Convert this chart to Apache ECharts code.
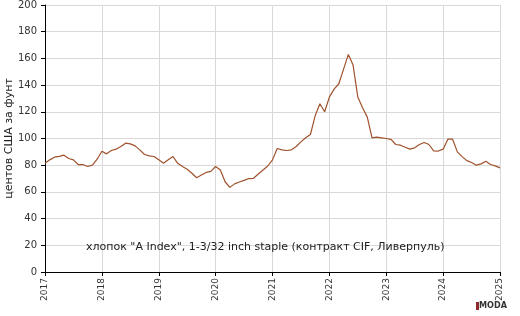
<!DOCTYPE html>
<html>
<head>
<meta charset="utf-8">
<script src="https://cdn.jsdelivr.net/npm/echarts@6/dist/echarts.min.js"></script>
<style>
html, body { margin: 0; padding: 0; background: #fff; }
#chart { width: 520px; height: 316px; }
</style>
</head>
<body>
<div id="chart"></div>
<script>
// monthly values, cents per pound, Jan 2017 .. Jan 2025
var startYear = 2017;
var v2017 = [81.5, 84, 86, 86.6, 87.5, 85, 84, 80.5, 80.5, 79, 80, 84.5];
var v2018 = [90.5, 88.5, 91, 92, 94, 96.5, 96, 94.5, 91.5, 88, 87, 86.5];
var v2019 = [84, 81.5, 84, 86.5, 81.4, 79, 77, 74, 70.6, 72.6, 74.6, 75.4];
var v2020 = [79, 76.4, 67.6, 63.4, 66, 67.4, 68.6, 70, 70.2, 73.4, 76.4, 79.4];
var v2021 = [84, 92.5, 91.5, 91, 91.5, 94, 97.5, 100.5, 103, 117, 126, 120];
var v2022 = [131, 137, 141, 152, 163, 155, 131, 123, 116, 100.5, 101, 100.5];
var v2023 = [100, 99.4, 95.5, 95, 93.4, 92, 93, 95.5, 97, 95.5, 90.8, 90.6];
var v2024 = [92, 99.5, 99.5, 90, 86.4, 83.4, 82, 80, 81, 83, 80.5, 79.5];
var v2025 = [78];

var years = [2017, 2018, 2019, 2020, 2021, 2022, 2023, 2024, 2025];
var yTicks = [0, 20, 40, 60, 80, 100, 120, 140, 160, 180, 200];
var seriesName = 'хлопок "A Index", 1-3/32 inch staple (контракт CIF, Ливерпуль)';
var yName = 'центов США за фунт';

var values = [].concat(v2017, v2018, v2019, v2020, v2021, v2022, v2023, v2024, v2025);
var points = values.map(function (v, i) {
    return [startYear + i / 12, v];
});

var chart = echarts.init(document.getElementById('chart'));
var font = 'Verdana, "DejaVu Sans", sans-serif';

var option = {
    animation: false,
    backgroundColor: '#fff',
    grid: { left: 45, right: 20, top: 5, bottom: 44, outerBoundsMode: 'none', containLabel: false },
    title: {
        text: seriesName,
        left: 81,
        top: 237,
        textStyle: { fontFamily: font, fontSize: 11, fontWeight: 'normal', color: '#222' }
    },
    xAxis: {
        type: 'value',
        min: years[0],
        max: years[years.length - 1],
        interval: 1,
        axisLine: { lineStyle: { color: '#000', width: 1 } },
        axisTick: { show: true, length: 4, lineStyle: { color: '#000' } },
        axisLabel: {
            rotate: 90,
            margin: 6,
            fontFamily: font,
            fontSize: 9,
            color: '#333',
            formatter: function (v) { return String(v); }
        },
        splitLine: { show: true, lineStyle: { color: '#d9d9d9', width: 1 } }
    },
    yAxis: {
        type: 'value',
        min: yTicks[0],
        max: yTicks[yTicks.length - 1],
        interval: 20,
        name: yName,
        nameLocation: 'middle',
        nameGap: 30,
        nameMoveOverlap: false,
        nameTextStyle: { fontFamily: font, fontSize: 11, color: '#222' },
        axisLine: { show: true, lineStyle: { color: '#000', width: 1 } },
        axisTick: { show: true, length: 4, lineStyle: { color: '#000' } },
        axisLabel: { margin: 8, fontFamily: font, fontSize: 10, color: '#333' },
        splitLine: { show: true, lineStyle: { color: '#d9d9d9', width: 1 } }
    },
    series: [{
        name: seriesName,
        type: 'line',
        data: points,
        symbol: 'none',
        lineStyle: { color: '#a0522d', width: 1.2 }
    }],
    graphic: [
        { type: 'rect', left: 476, top: 302, shape: { width: 3, height: 8 }, style: { fill: '#8b2a2a' } },
        {
            type: 'text', left: 479, top: 301,
            style: { text: 'MODA', fontFamily: '"DejaVu Sans Condensed", "DejaVu Sans", sans-serif', fontSize: 9, fontWeight: 'bold', fill: '#333' }
        }
    ]
};

chart.setOption(option);
</script>
</body>
</html>
